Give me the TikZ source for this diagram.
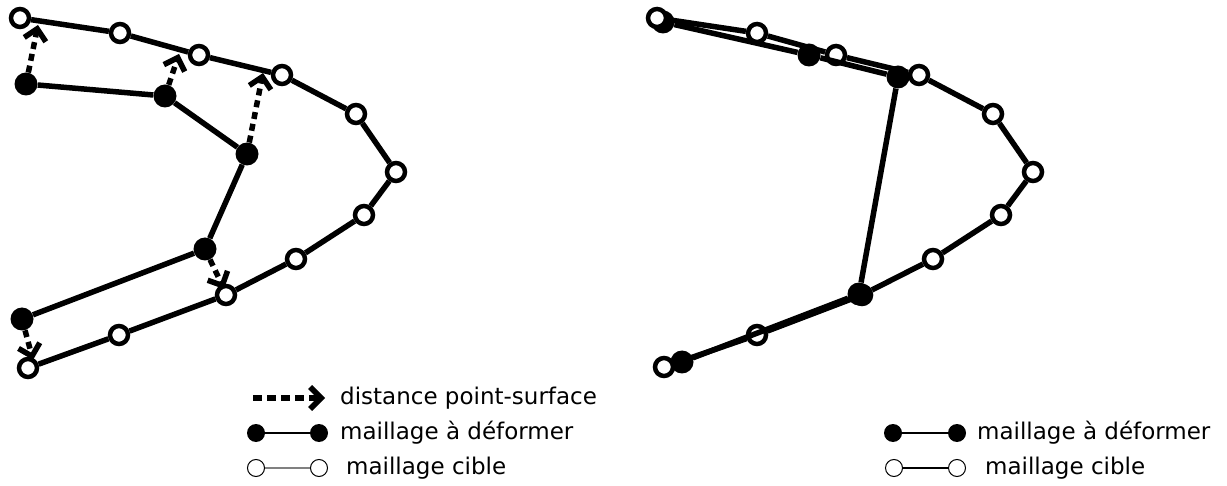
\documentclass[tikz,border=0pt]{standalone}
\usepackage{fontspec}
\setsansfont{DejaVu Sans}
\usetikzlibrary{arrows.meta, positioning}

\begin{document}
\begin{tikzpicture} [x = 1pt, y = -1pt, node distance = 63pt, on grid, font = \sffamily\fontsize{23}{27}\selectfont,
	cible/.style = {circle, draw, fill = white, line width = 4.5pt, minimum size = 18pt, inner sep = 0pt},
	deform/.style = {circle, fill = black, minimum size = 23pt, inner sep = 0pt},
	maille/.style = {line width = 5.5pt},
	dist/.style = {line width = 5.5pt, dash pattern = on 7pt off 5pt, -{Straight Barb[length = 11pt, width = 22pt]}},
	lgdot/.style = {circle, fill = black, minimum size = 18pt, inner sep = 0pt},
	lgring/.style = {circle, draw, fill = white, line width = 1pt, minimum size = 17pt, inner sep = 0pt},
	texte/.style = {inner sep = 0pt}]
		% Frame
		\useasboundingbox (0,0) rectangle (1227,486);

		% Left : mesh to deform
		\node (s1) [deform] at (26,84) {};
		\node (s2) [deform] at (165,96) {};
		\node (s3) [deform] at (247,154) {};
		\node (s4) [deform] at (205,249) {};
		\node (s5) [deform] at (22,319) {};

		% Left : closest points on the target
		\coordinate (p1) at (38,25);
		\coordinate (p2) at (179,54);
		\coordinate (p3) at (263,73);
		\coordinate (p4) at (224,289);
		\coordinate (p5) at (33,360);

		% Distance arrows
		\draw [dist] (s1) -- (p1);
		\draw [dist] (s2) -- (p2);
		\draw [dist] (s3) -- (p3);
		\draw [dist] (s4) -- (p4);
		\draw [dist] (s5) -- (p5);

		% Left : target mesh
		\node (t1) [cible] at (20,18) {};
		\node (t2) [cible] at (120,33) {};
		\node (t3) [cible] at (199,55) {};
		\node (t4) [cible] at (282,75) {};
		\node (t5) [cible] at (356,114) {};
		\node (t6) [cible] at (396,172) {};
		\node (t7) [cible] at (364,215) {};
		\node (t8) [cible] at (296,259) {};
		\node (t9) [cible] at (226,295) {};
		\node (t10) [cible] at (119,335) {};
		\node (t11) [cible] at (28,368) {};

		\draw [maille] (t1) -- (t2) -- (t3) -- (t4) -- (t5) -- (t6) -- (t7) -- (t8) -- (t9) -- (t10) -- (t11);
		\draw [maille] (s1) -- (s2) -- (s3) -- (s4) -- (s5);

		% Right : deformed mesh
		\node (d1) [deform] at (663,22) {};
		\node (d2) [deform] at (809,55) {};
		\node (d3) [deform] at (898,77) {};
		\node (d5) [deform] at (682,362) {};

		% Right : target mesh
		\node (r1) [cible] at (657,18) {};
		\node (r2) [cible] at (757,33) {};
		\node (r3) [cible] at (836,55) {};
		\node (r4) [cible] at (919,75) {};
		\node (r5) [cible] at (993,114) {};
		\node (r6) [cible] at (1033,172) {};
		\node (r7) [cible] at (1001,215) {};
		\node (r8) [cible] at (933,259) {};
		\node (r9) [cible] at (862,295) {};
		\node (r10) [cible] at (757,335) {};
		\node (r11) [cible] at (664,367) {};
		\node (d4) [deform] at (859,294) {};

		\draw [maille] (r1) -- (r2) -- (r3) -- (r4) -- (r5) -- (r6) -- (r7) -- (r8) -- (r9) -- (r10) -- (r11);
		\draw [maille] (d1) -- (d2) -- (d3) -- (d4) -- (d5);

		% Left legend
		\coordinate (ld1) at (253,398);
		\node (ld2) [coordinate, right = 72pt of ld1] {};
		\draw [dist, dash pattern = on 9pt off 5pt] (ld1) -- (ld2);
		\node (ldt) [texte, right = 15pt of ld2, anchor = west] {distance point-surface};

		\node (lf1) [lgdot] at (256,433) {};
		\node (lf2) [lgdot, right = of lf1] {};
		\draw [line width = 1.5pt] (lf1) -- (lf2);
		\node (lft) [texte, right = 21pt of lf2, anchor = west] {maillage à déformer};

		\node (lc1) [lgring] at (256,468) {};
		\node (lc2) [lgring, right = of lc1] {};
		\draw [line width = 1.5pt, gray] (lc1) -- (lc2);
		\node (lct) [texte, right = 27pt of lc2, anchor = west] {maillage cible};

		% Right legend
		\node (rf1) [lgdot] at (893,433) {};
		\node (rf2) [lgdot, right = 64pt of rf1] {};
		\draw [line width = 1.5pt] (rf1) -- (rf2);
		\node (rft) [texte, right = 20pt of rf2, anchor = west] {maillage à déformer};

		\node (rc1) [lgring] at (894,468) {};
		\node (rc2) [lgring, right = of rc1] {};
		\draw [line width = 1.5pt] (rc1) -- (rc2);
		\node (rct) [texte, right = 28pt of rc2, anchor = west] {maillage cible};
	\end{tikzpicture}
\end{document}
